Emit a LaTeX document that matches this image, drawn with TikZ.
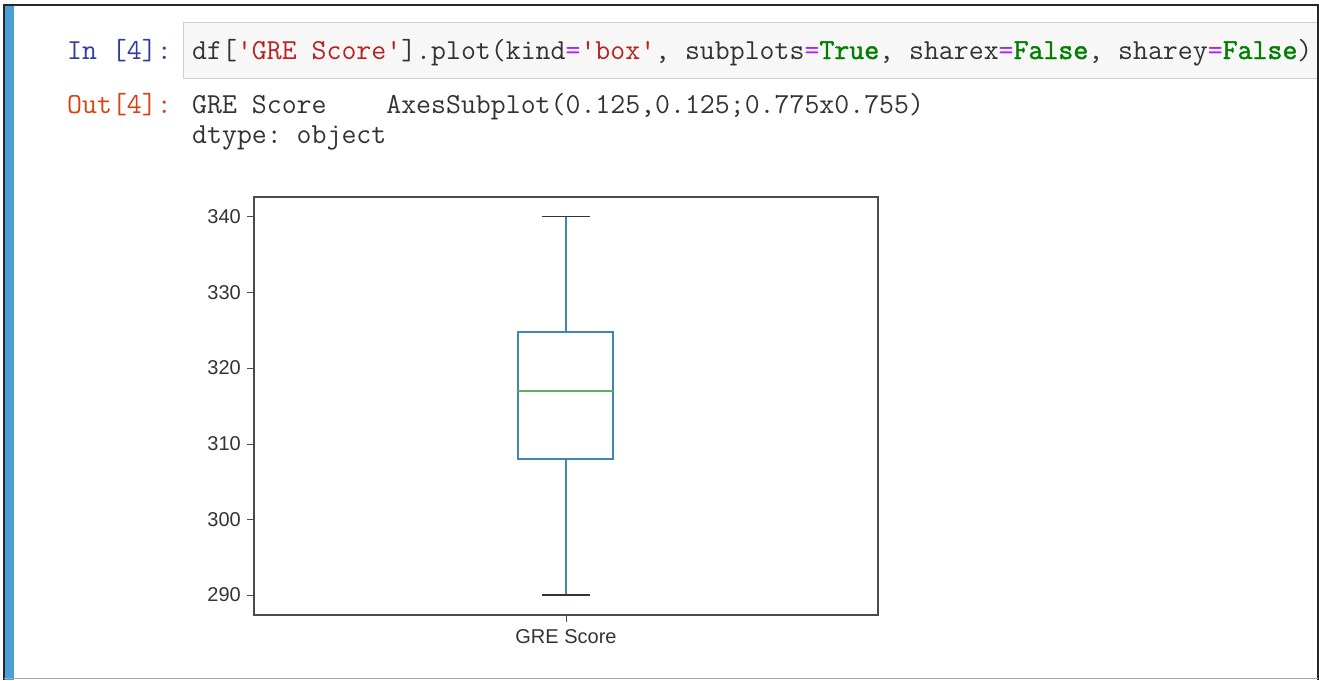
\documentclass[tikz,border=0pt]{standalone}
\usepackage{fontspec}
\newfontfamily\codefont[AutoFakeBold=1.6]{Latin Modern Mono}
\newfontfamily\plotfont{Liberation Sans}
\definecolor{promptin}{HTML}{303F9F}
\definecolor{promptout}{HTML}{D84315}
\definecolor{strred}{HTML}{BA2121}
\definecolor{kwgreen}{HTML}{008000}
\definecolor{oppurple}{HTML}{AA22FF}
\definecolor{cellbg}{HTML}{F7F7F7}
\definecolor{cellborder}{HTML}{CFCFCF}
\definecolor{selblue}{HTML}{4A9FD8}
\definecolor{boxblue}{HTML}{3F86B8}
\definecolor{medgreen}{HTML}{5DB35D}
\definecolor{axisgray}{HTML}{4A4A4A}
\definecolor{textgray}{HTML}{333333}
\tikzset{
  code/.style={inner sep=0pt, anchor=base west, font=\codefont\frenchspacing\fontsize{29}{31}\selectfont, text=textgray},
  plotlabel/.style={inner sep=0pt, font=\plotfont\fontsize{20}{22}\selectfont, text=textgray},
  ticklabel/.style={plotlabel, anchor=east},
  tickmark/.style={axisgray, line width=1pt},
  whisker/.style={boxblue, line width=1.3pt},
  capline/.style={black!80, line width=1.6pt},
}
\begin{document}
\begin{tikzpicture}[x=1pt,y=-1pt]
\useasboundingbox (0,0) rectangle (1319,680);
\fill[white] (0,0) rectangle (1319,680);
% notebook frame with the selected-cell bar
\fill[selblue] (5,6) rectangle (14,680);
\draw[black!85, line width=2pt] (4,680) -- (4,5) -- (1318,5) -- (1318,680);
\draw[black!35, line width=1pt] (4,678.5) -- (1318,678.5);
% input area
\fill[cellbg, draw=cellborder, line width=1pt] (1317,22) -- (183,22) -- (183,78) -- (1317,78);
\node[code, text=promptin] (inprompt) at (67,59) {In [4]:};
\node[code] (codeline) at (192,59) {df[\textcolor{strred}{'GRE Score'}].plot(kind\textcolor{oppurple}{=}\textcolor{strred}{'box'}, subplots\textcolor{oppurple}{=}\textcolor{kwgreen}{\bfseries True}, sharex\textcolor{oppurple}{=}\textcolor{kwgreen}{\bfseries False}, sharey\textcolor{oppurple}{=}\textcolor{kwgreen}{\bfseries False})};
% output area
\node[code, text=promptout] (outprompt) at (67,113) {Out[4]:};
\node[code] (outline) at (192,113) {GRE Score\ \ \ \ AxesSubplot(0.125,0.125;0.775x0.755)};
\node[code] (dtypeline) at (192,143) {dtype: object};
% axes frame
\draw[axisgray, line width=1.8pt] (254,197) rectangle (878,615);
% y ticks and labels
\foreach \v/\y in {340/216.5,330/292.5,320/368,310/444,300/519.5,290/595}{
  \draw[tickmark] (247,\y) -- (254,\y);
  \node[ticklabel] (t\v) at (241,\y) {\v};
}
% x tick and label
\draw[tickmark] (566,615) -- (566,622);
\node[plotlabel, anchor=base] (xlabel) at (566,643) {GRE Score};
% box plot
\coordinate (qtop) at (566,332);
\coordinate (qbot) at (566,459);
\coordinate (wtop) at (566,216.5);
\coordinate (wbot) at (566,595);
\draw[whisker] (518,332) rectangle (613,459);
\draw[medgreen, line width=1.3pt] (518,391) -- (613,391);
\draw[whisker] (qtop) -- (wtop);
\draw[whisker] (qbot) -- (wbot);
\draw[capline] (542,216.5) -- (590,216.5);
\draw[capline] (542,595) -- (590,595);
\end{tikzpicture}
\end{document}
